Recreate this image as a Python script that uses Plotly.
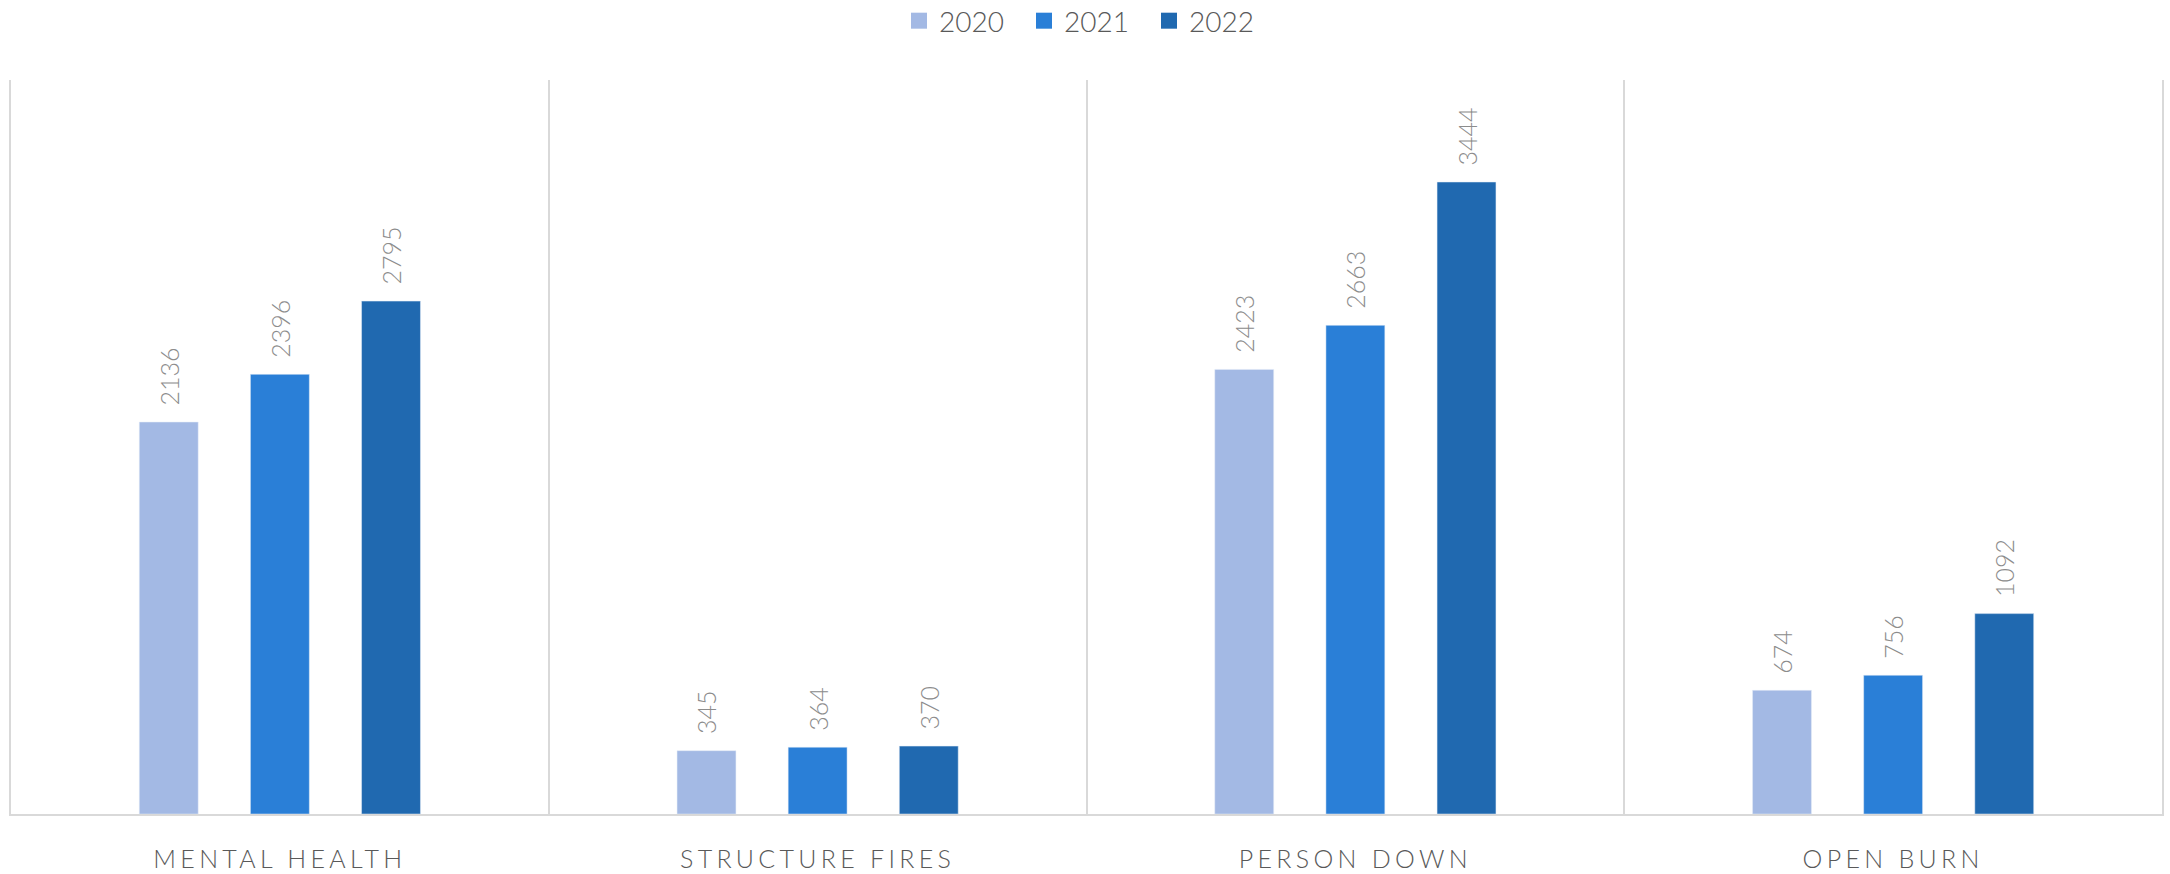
import plotly.graph_objects as go

categories = ["MENTAL HEALTH", "STRUCTURE FIRES", "PERSON DOWN", "OPEN BURN"]
years = ["2020", "2021", "2022"]
values_2020 = [2136, 345, 2423, 674]
values_2021 = [2396, 364, 2663, 756]
values_2022 = [2795, 370, 3444, 1092]
colors = ["#A3B9E4", "#2A7FD7", "#2069B0"]

series = [values_2020, values_2021, values_2022]
FONT = "'Lato Light', Lato, 'Open Sans', sans-serif"
PAD = "\u00a0\u00a0"

fig = go.Figure()
for name, vals, col in zip(years, series, colors):
    fig.add_trace(go.Bar(
        name=name, x=categories, y=vals, marker_color=col,
        text=[PAD + str(v) for v in vals], textposition="outside", textangle=-90,
        constraintext="none",
        textfont=dict(family=FONT, size=25, color="#8c8c8c", weight=300),
        cliponaxis=False, hoverinfo="skip", showlegend=False,
    ))
# legend entries (large square swatches)
for name, col in zip(years, colors):
    fig.add_trace(go.Scatter(
        name=name, x=[None], y=[None], mode="markers",
        marker=dict(symbol="square", size=20, color=col, line=dict(width=0)),
        showlegend=True, hoverinfo="skip",
    ))

fig.update_layout(
    width=2170, height=874,
    margin=dict(l=11, r=8, t=80, b=60, autoexpand=False),
    paper_bgcolor="white", plot_bgcolor="white",
    barmode="group", bargap=0.38, bargroupgap=0.47,
    font=dict(family=FONT, color="#595959"),
    legend=dict(orientation="h", x=0.5, xanchor="center", y=1.0804, yanchor="middle",
                yref="paper", entrywidth=80,
                font=dict(family=FONT, size=28, color="#595959", weight=300),
                itemwidth=30, traceorder="normal"),
    showlegend=True,
)
fig.update_xaxes(
    type="category", range=[-0.5, 3.5], tickson="boundaries",
    showgrid=True, gridcolor="#d9d9d9", gridwidth=2,
    showline=True, linecolor="#d9d9d9", linewidth=2,
    ticks="", ticklen=0, ticklabelstandoff=22,
    tickfont=dict(family=FONT, size=25, color="#595959", weight=300),
    fixedrange=True,
)
fig.update_yaxes(
    range=[0, 4000], showgrid=False, zeroline=False, showticklabels=False,
    showline=True, mirror=True, linecolor="#d9d9d9", linewidth=2, ticks="",
    fixedrange=True,
)

post = """
document.body.style.margin='0';
document.querySelectorAll('.xtick text').forEach(function(t){
  t.setAttribute('letter-spacing','4.3px');
});
"""
fig.write_html("out.html", config={"displayModeBar": False}, post_script=post)
